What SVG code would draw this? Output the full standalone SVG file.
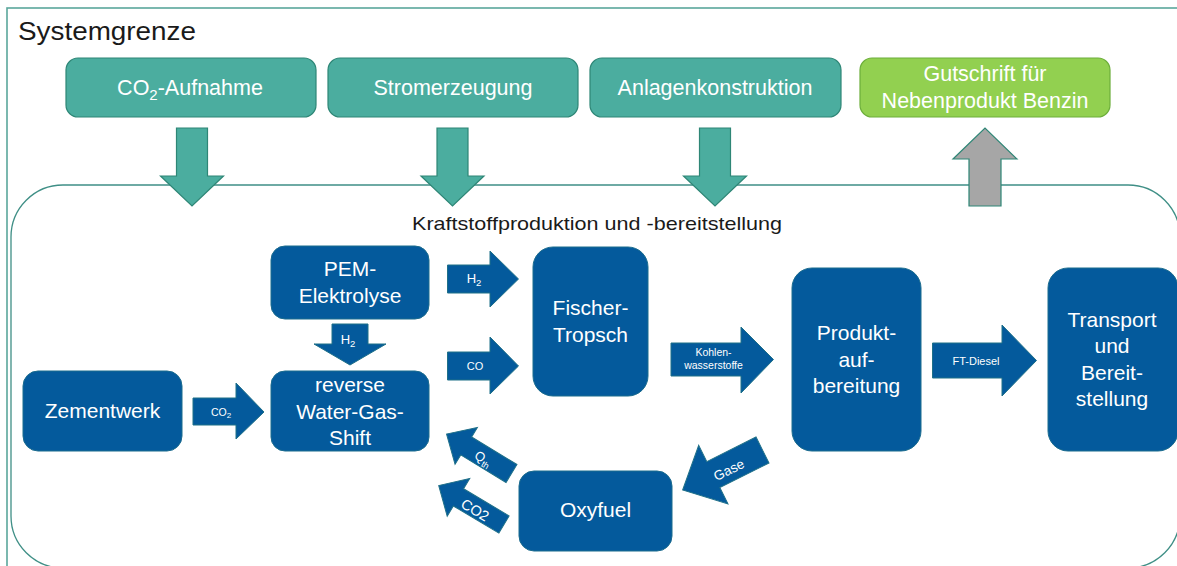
<svg xmlns="http://www.w3.org/2000/svg" width="1177" height="566" viewBox="0 0 1177 566">
  <style>
    text { font-family: "Liberation Sans", Arial, sans-serif; }
    .frame { fill: none; stroke: #5aa79c; stroke-width: 1.6; }
    .inner { fill: none; stroke: #3f8f86; stroke-width: 1.3; }
    .teal { fill: #4bad9f; stroke: #2e8676; stroke-width: 1.2; }
    .green { fill: #92d050; stroke: #6cae3a; stroke-width: 1.2; }
    .grey { fill: #a6a6a6; stroke: #2e8676; stroke-width: 1.2; }
    .blue { fill: #045a9c; stroke: #1b6c8e; stroke-width: 1; }
    .flow { fill: #045a9c; stroke: #1f7088; stroke-width: 1; }
    .tw { fill: #ffffff; font-size: 21.5px; text-anchor: middle; }
    .bw { fill: #ffffff; font-size: 21px; text-anchor: middle; }
    .sm { fill: #ffffff; text-anchor: middle; }
    .dark { fill: #1a1a1a; }
  </style>

  <!-- system boundary -->
  <rect class="frame" x="7" y="8" width="1185" height="575"/>
  <text class="dark" x="18" y="40" font-size="25" textLength="178" lengthAdjust="spacingAndGlyphs">Systemgrenze</text>

  <!-- fuel production area -->
  <rect class="inner" x="11" y="185" width="1169" height="383" rx="52" ry="52"/>
  <text class="dark" x="412" y="230" font-size="19" textLength="370" lengthAdjust="spacingAndGlyphs">Kraftstoffproduktion und -bereitstellung</text>

  <!-- upstream / credit boxes -->
  <g id="co2-aufnahme">
    <rect class="teal" x="66" y="58" width="250" height="59" rx="12"/>
    <text class="tw" x="190" y="95">CO<tspan font-size="15" dy="5">2</tspan><tspan dy="-5">-Aufnahme</tspan></text>
  </g>
  <g id="stromerzeugung">
    <rect class="teal" x="328" y="58" width="250" height="59" rx="12"/>
    <text class="tw" x="453" y="95">Stromerzeugung</text>
  </g>
  <g id="anlagenkonstruktion">
    <rect class="teal" x="590" y="58" width="251" height="59" rx="12"/>
    <text class="tw" x="715" y="95">Anlagenkonstruktion</text>
  </g>
  <g id="gutschrift">
    <rect class="green" x="860" y="58" width="250" height="59" rx="12"/>
    <text class="tw" x="985" y="81">Gutschrift für</text>
    <text class="tw" x="985" y="108">Nebenprodukt Benzin</text>
  </g>

  <!-- process boxes -->
  <g id="zementwerk">
    <rect class="blue" x="23" y="371" width="159" height="80" rx="15"/>
    <text class="bw" x="102.5" y="418">Zementwerk</text>
  </g>
  <g id="pem">
    <rect class="blue" x="271" y="246" width="158" height="73" rx="14"/>
    <text class="bw" x="350" y="276">PEM-</text>
    <text class="bw" x="350" y="303">Elektrolyse</text>
  </g>
  <g id="rwgs">
    <rect class="blue" x="271" y="371" width="158" height="80" rx="14"/>
    <text class="bw" x="350" y="392">reverse</text>
    <text class="bw" x="350" y="419">Water-Gas-</text>
    <text class="bw" x="350" y="445">Shift</text>
  </g>
  <g id="fischer-tropsch">
    <rect class="blue" x="533" y="247" width="115" height="149" rx="20"/>
    <text class="bw" x="590.5" y="315">Fischer-</text>
    <text class="bw" x="590.5" y="342">Tropsch</text>
  </g>
  <g id="produktaufbereitung">
    <rect class="blue" x="792" y="268" width="129" height="183" rx="20"/>
    <text class="bw" x="856.5" y="340">Produkt-</text>
    <text class="bw" x="856.5" y="367">auf-</text>
    <text class="bw" x="856.5" y="393">bereitung</text>
  </g>
  <g id="transport">
    <rect class="blue" x="1048" y="268" width="130" height="183" rx="20"/>
    <text class="bw" x="1112" y="327">Transport</text>
    <text class="bw" x="1112" y="353">und</text>
    <text class="bw" x="1112" y="380">Bereit-</text>
    <text class="bw" x="1112" y="406">stellung</text>
  </g>
  <g id="oxyfuel">
    <rect class="blue" x="519" y="471" width="153" height="80" rx="15"/>
    <text class="bw" x="595.5" y="517">Oxyfuel</text>
  </g>

  <!-- connectors (block arrows) -->
  <g id="connectors">
    <!-- inputs into the production area -->
    <polygon class="teal" points="176.5,128 207.5,128 207.5,176 223.5,176 192,206 160.5,176 176.5,176"/>
    <polygon class="teal" points="437,128 468,128 468,176 484,176 452.5,206 421,176 437,176"/>
    <polygon class="teal" points="699.5,128 730.5,128 730.5,176 746.5,176 715,206 683.5,176 699.5,176"/>
    <!-- credit output -->
    <polygon class="grey" points="969,206 1001,206 1001,159 1017,159 985,128 953,159 969,159"/>

    <!-- CO2 from cement plant -->
    <polygon class="flow" points="193,398 236,398 236,383 264,412 236,439 236,425 193,425"/>
    <text class="sm" x="221" y="416" font-size="10.5">CO<tspan font-size="8" dy="2">2</tspan></text>

    <!-- H2 electrolysis to RWGS -->
    <polygon class="flow" points="332,324 368,324 368,344 386,344 350,365 314,344 332,344"/>
    <text class="sm" x="348" y="344" font-size="13">H<tspan font-size="9.5" dy="3">2</tspan></text>

    <!-- H2 to Fischer-Tropsch -->
    <polygon class="flow" points="447.5,265 490,265 490,251 518.5,279 490,307 490,293 447.5,293"/>
    <text class="sm" x="474" y="283" font-size="13">H<tspan font-size="9.5" dy="3">2</tspan></text>

    <!-- CO to Fischer-Tropsch -->
    <polygon class="flow" points="447.5,352 490,352 490,337 518.5,366 490,394 490,380 447.5,380"/>
    <text class="sm" x="475" y="370" font-size="11">CO</text>

    <!-- hydrocarbons -->
    <polygon class="flow" points="671,343 741,343 741,327 773.5,359.5 741,393 741,376 671,376"/>
    <text class="sm" x="713.5" y="356" font-size="10.5">Kohlen-</text>
    <text class="sm" x="713.5" y="369" font-size="10.5">wasserstoffe</text>

    <!-- FT-Diesel -->
    <polygon class="flow" points="932.5,343 1002,343 1002,325 1036.5,360.5 1002,396 1002,378 932.5,378"/>
    <text class="sm" x="976" y="364.5" font-size="11">FT-Diesel</text>

    <!-- Gase to Oxyfuel -->
    <polygon class="flow" transform="translate(762.5,450) rotate(153.4)" points="0,-14.5 55,-14.5 55,-32.7 89.3,0 55,32.7 55,14.5 0,14.5"/>
    <text class="sm" font-size="13.5" transform="translate(729,470) rotate(-26.6)" y="4.5">Gase</text>

    <!-- heat back to RWGS -->
    <polygon class="flow" transform="translate(511.5,473.5) rotate(211.3)" points="0,-10.5 53,-10.5 53,-21.5 76,0 53,21.5 53,10.5 0,10.5"/>
    <text class="sm" font-size="13" transform="translate(483,459) rotate(31.3)" y="4">Q<tspan font-size="9" dy="3">th</tspan></text>

    <!-- CO2 back to RWGS -->
    <polygon class="flow" transform="translate(504,524.5) rotate(210.8)" points="0,-10 53,-10 53,-22 76,0 53,22 53,10 0,10"/>
    <text class="sm" font-size="14.5" transform="translate(475,510) rotate(30.8)" y="5">CO2</text>
  </g>
</svg>
